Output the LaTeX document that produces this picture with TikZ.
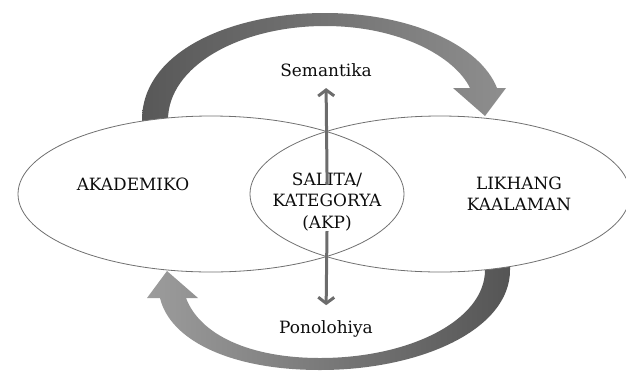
\documentclass[tikz,border=0pt]{standalone}
\usepackage{fontspec}
\setmainfont{DejaVu Serif}
\usetikzlibrary{arrows.meta}
\definecolor{edgegray}{HTML}{707070}
\definecolor{arrowgray}{HTML}{6C6C6C}
\definecolor{topdark}{HTML}{585858}
\definecolor{toplight}{HTML}{8E8E8E}
\definecolor{botdark}{HTML}{555555}
\definecolor{botlight}{HTML}{9C9C9C}
\begin{document}
\begin{tikzpicture}[x=1bp,y=-1bp,
  lbl/.style={font=\fontsize{17}{21.5}\selectfont, align=center, text=black!95},
  ellline/.style={draw=edgegray, line width=0.8bp},
  varrow/.style={draw=arrowgray, line width=3bp, -{Straight Barb[length=6bp,width=16bp]}}]
\useasboundingbox (0,0) rectangle (626,372);
% top curved arrow
\shade[left color=topdark, right color=toplight]
  (142,140) -- (142,120) .. controls (142,52) and (230,13) .. (325,13)
  .. controls (410,13) and (480,45) .. (497,88) -- (506,88) -- (485,116) -- (453,88) -- (470,88)
  .. controls (455,57) and (400,26) .. (325,26)
  .. controls (240,26) and (168,66) .. (168,120) -- (168,140) -- cycle;
% bottom curved arrow
\shade[left color=botlight, right color=botdark]
  (510,250) -- (510,270) .. controls (510,330) and (420,370) .. (320,370)
  .. controls (230,370) and (170,340) .. (160,298) -- (147,298) -- (167,271) -- (198,298) -- (186,298)
  .. controls (200,335) and (250,358) .. (320,358)
  .. controls (410,358) and (485,320) .. (485,270) -- (485,250) -- cycle;
% ellipses
\coordinate (lc) at (211,194);
\coordinate (rc) at (440,194);
\fill[white] (lc) ellipse [x radius=193, y radius=78];
\fill[white] (rc) ellipse [x radius=190, y radius=78];
\draw[ellline] (lc) ellipse [x radius=193, y radius=78];
\draw[ellline] (rc) ellipse [x radius=190, y radius=78];
% labels
\node[lbl] (ak) at (133,184) {AKADEMIKO};
\node[lbl] (lk) at (519,194) {LIKHANG\\KAALAMAN};
\node[lbl, inner sep=0pt] (mid) at (327,202) {SALITA/\\KATEGORYA\\(AKP)};
\node[lbl] (sem) at (326,70) {Semantika};
\node[lbl] (pon) at (326,329) {Ponolohiya};
% vertical arrows
\draw[varrow, shorten <=-12bp, shorten >=8bp] (mid.north) -- (sem.south);
\draw[varrow, shorten >=12bp] (mid.south) -- (pon.north);
\end{tikzpicture}
\end{document}
